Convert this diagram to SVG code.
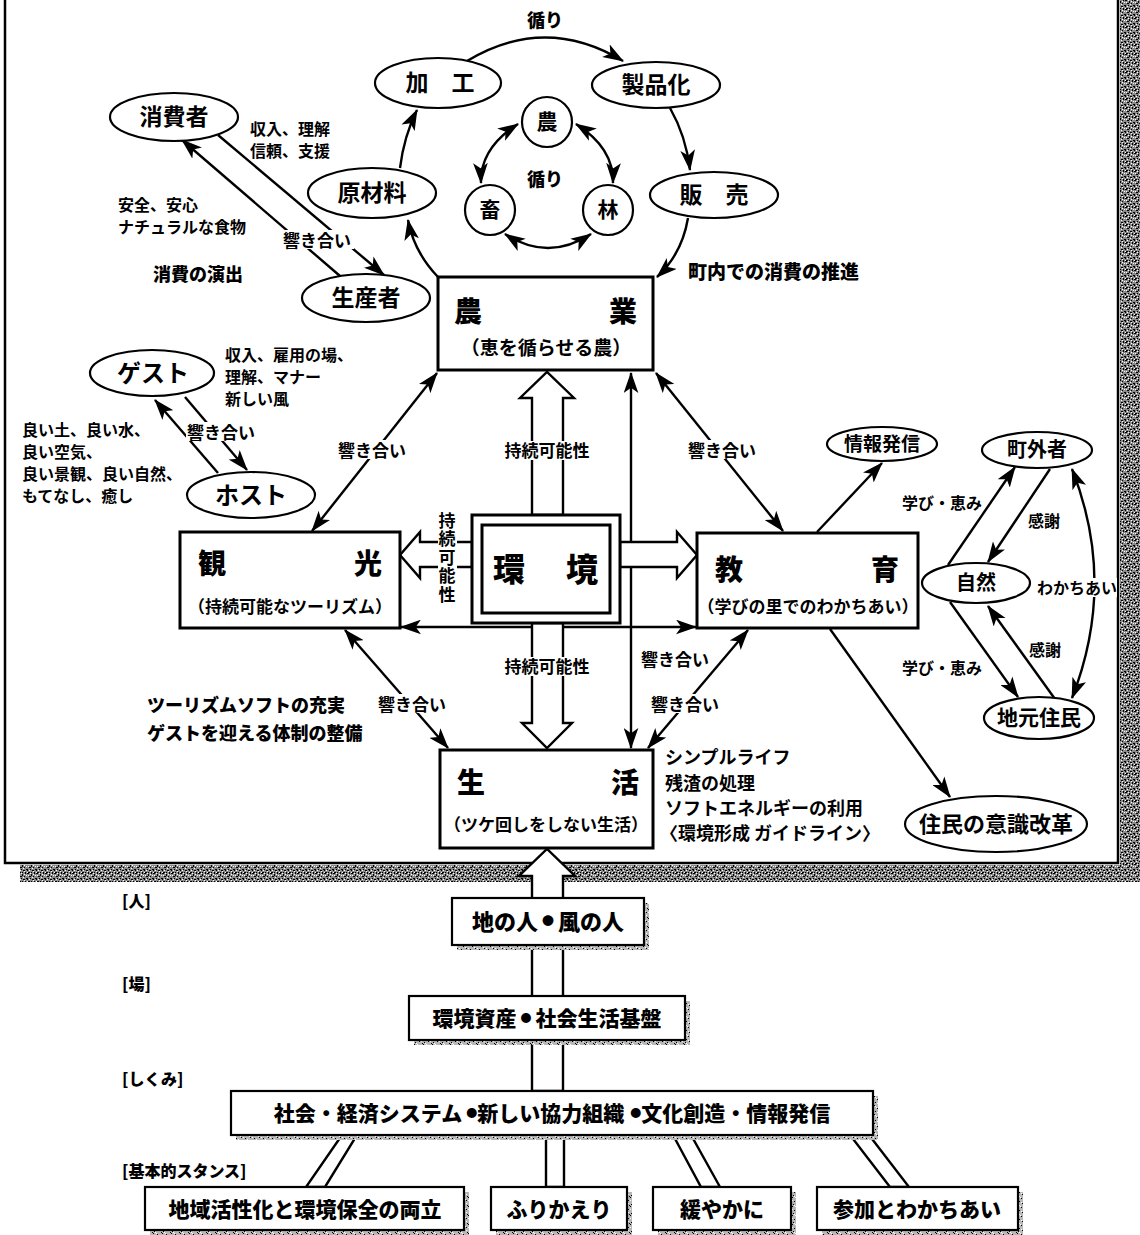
<svg xmlns="http://www.w3.org/2000/svg" width="1140" height="1235" viewBox="0 0 1140 1235">
<style>
.e{fill:#fff;stroke:#000;stroke-width:2.2}
.bx{fill:#fff;stroke:#000;stroke-width:3}
.sb{fill:#fff;stroke:#000;stroke-width:2.2}
.t{font-family:"Noto Sans CJK JP","Noto Sans CJK SC",sans-serif;font-weight:700;fill:#000}
.k{font-family:"Noto Sans CJK JP","Noto Sans CJK SC",sans-serif;font-weight:900;fill:#000}
.c{text-anchor:middle}
.ln{fill:none;stroke:#000;stroke-width:2.4}
.h{fill:#fff;stroke:#000;stroke-width:2.4;stroke-linejoin:miter}
.wb{fill:#fff}
</style>
<defs>
<marker id="a" viewBox="0 0 20 14" refX="19" refY="7" markerWidth="21" markerHeight="15" markerUnits="userSpaceOnUse" orient="auto-start-reverse">
<path d="M0,0 L20,7 L0,14 L5,7 z" fill="#000"/>
</marker>
<pattern id="nz" width="9" height="9" patternUnits="userSpaceOnUse">
<rect width="9" height="9" fill="#8a8a8a"/>
<path d="M0 0h2v1H0zM4 1h1v2H4zM7 0h1v1H7zM2 3h2v1H2zM6 3h1v1H6zM0 5h1v2H0zM3 5h1v1H3zM5 6h2v1H5zM8 5h1v1H8zM1 8h2v1H1zM4 8h1v1H4zM7 8h1v1H7z" fill="#000"/>
<path d="M3 0h1v1H3zM6 1h1v1H6zM1 2h1v1H1zM5 4h1v1H5zM8 2h1v1H8zM2 6h1v1H2zM6 7h1v1H6zM0 8h1v1H0z" fill="#fff"/>
</pattern>
<pattern id="nl" width="9" height="9" patternUnits="userSpaceOnUse">
<rect width="9" height="9" fill="#b8b8b8"/>
<path d="M0 0h1v1H0zM4 1h1v1H4zM7 3h1v1H7zM2 4h1v1H2zM5 6h1v1H5zM1 7h1v1H1zM8 8h1v1H8z" fill="#000"/>
<path d="M3 0h1v1H3zM6 2h1v1H6zM0 3h1v1H0zM4 5h1v1H4zM7 6h1v1H7zM2 8h1v1H2z" fill="#fff"/>
</pattern>
</defs>
<rect width="1140" height="1235" fill="#fff"/>

<!-- frame and textured edges -->
<g id="frame">
<rect x="1120" y="0" width="20" height="882" fill="url(#nz)"/>
<rect x="20" y="865" width="1120" height="17" fill="url(#nz)"/>
<path d="M5,0 V863 H1118 V0" fill="none" stroke="#000" stroke-width="2.5"/>
</g>

<!-- connectors -->
<g id="connectors">
<path class="ln" d="M467,61 Q545,14 623,61" marker-end="url(#a)"/>
<path class="ln" d="M400,168 Q404,136 417,110" marker-end="url(#a)"/>
<path class="ln" d="M438,277 Q414,252 408,220" marker-end="url(#a)"/>
<path class="ln" d="M670,108 Q686,136 690,170" marker-end="url(#a)"/>
<path class="ln" d="M688,218 Q682,254 657,277" marker-end="url(#a)"/>
<path class="ln" d="M518,124 Q480,148 481,183" marker-start="url(#a)" marker-end="url(#a)"/>
<path class="ln" d="M576,124 Q614,148 613,183" marker-start="url(#a)" marker-end="url(#a)"/>
<path class="ln" d="M505,234 Q548,262 591,234" marker-start="url(#a)" marker-end="url(#a)"/>
<path class="ln" d="M218,135 L384,275" marker-end="url(#a)"/>
<path class="ln" d="M340,276 L182,140" marker-end="url(#a)"/>
<path class="ln" d="M185,397 L247,470" marker-end="url(#a)"/>
<path class="ln" d="M218,473 L155,400" marker-end="url(#a)"/>
<path class="ln" d="M312,531 L437,373" marker-start="url(#a)" marker-end="url(#a)"/>
<path class="ln" d="M783,531 L656,373" marker-start="url(#a)" marker-end="url(#a)"/>
<path class="ln" d="M631,748 L631,373" marker-start="url(#a)" marker-end="url(#a)"/>
<path class="ln" d="M401,627 L696,627" marker-start="url(#a)" marker-end="url(#a)"/>
<path class="ln" d="M345,630 L448,748" marker-start="url(#a)" marker-end="url(#a)"/>
<path class="ln" d="M748,630 L648,748" marker-start="url(#a)" marker-end="url(#a)"/>
<path class="ln" d="M817,532 L882,463" marker-end="url(#a)"/>
<path class="ln" d="M830,629 L950,797" marker-end="url(#a)"/>
<path class="ln" d="M948,565 L1015,467" marker-end="url(#a)"/>
<path class="ln" d="M1050,469 L988,562" marker-end="url(#a)"/>
<path class="ln" d="M1072,469 Q1117,583 1072,698" marker-start="url(#a)" marker-end="url(#a)"/>
<path class="ln" d="M950,602 L1018,697" marker-end="url(#a)"/>
<path class="ln" d="M1055,699 L988,606" marker-end="url(#a)"/>
<polygon class="h" points="532,515 532,398 520,398 547,372 574,398 563,398 563,515"/>
<polygon class="h" points="472,542 420,542 420,532 400,555 420,578 420,567 472,567"/>
<polygon class="h" points="620,542 677,542 677,532 697,555 677,578 677,567 620,567"/>
<polygon class="h" points="532,623 532,723 522,723 547,748 572,723 563,723 563,623"/>
<polygon class="h" points="532,1091 532,876 519,876 547,849 575,876 563,876 563,1091"/>
<polygon class="h" points="342,1135 357,1135 325,1187 306,1187"/>
<polygon class="h" points="546,1135 564,1135 564,1187 546,1187"/>
<polygon class="h" points="673,1135 691,1135 720,1187 701,1187"/>
<polygon class="h" points="850,1135 869,1135 909,1187 890,1187"/>
</g>

<!-- connector labels -->
<g id="labels">
<text class="k c" x="545" y="27" font-size="18">循り</text>
<text class="k c" x="545" y="186" font-size="18">循り</text>
<rect class="wb" x="282" y="230" width="72" height="19"/>
<text class="t c" x="317" y="247" font-size="17">響き合い</text>
<rect class="wb" x="186" y="422" width="72" height="19"/>
<text class="t c" x="221" y="439" font-size="17">響き合い</text>
<rect class="wb" x="336" y="440" width="72" height="19"/>
<text class="t c" x="372" y="457" font-size="17">響き合い</text>
<rect class="wb" x="686" y="440" width="72" height="19"/>
<text class="t c" x="722" y="457" font-size="17">響き合い</text>
<rect class="wb" x="376" y="694" width="72" height="19"/>
<text class="t c" x="412" y="711" font-size="17">響き合い</text>
<rect class="wb" x="649" y="694" width="72" height="19"/>
<text class="t c" x="685" y="711" font-size="17">響き合い</text>
<text class="t c" x="675" y="666" font-size="17">響き合い</text>
<rect class="wb" x="502" y="441" width="90" height="19"/>
<text class="t c" x="547" y="457" font-size="17">持続可能性</text>
<rect class="wb" x="502" y="657" width="90" height="19"/>
<text class="t c" x="547" y="673" font-size="17">持続可能性</text>
<rect class="wb" x="438" y="511" width="19" height="94"/>
<text class="t" x="447" y="512" font-size="17" writing-mode="vertical-rl" letter-spacing="1.5">持続可能性</text>
<text class="t c" x="942" y="509" font-size="16">学び・恵み</text>
<text class="t c" x="942" y="674" font-size="16">学び・恵み</text>
<text class="t c" x="1044" y="527" font-size="16">感謝</text>
<text class="t c" x="1045" y="656" font-size="16">感謝</text>
<rect class="wb" x="1037" y="578" width="80" height="19"/>
<text class="t c" x="1077" y="594" font-size="16">わかちあい</text>
</g>

<!-- free texts -->
<g id="notes">
<text class="t" font-size="16"><tspan x="250" y="135">収入、理解</tspan><tspan x="250" y="157">信頼、支援</tspan></text>
<text class="t" font-size="16"><tspan x="118" y="211">安全、安心</tspan><tspan x="118" y="233">ナチュラルな食物</tspan></text>
<text class="k" x="153" y="281" font-size="18">消費の演出</text>
<text class="k" x="688" y="279" font-size="19">町内での消費の推進</text>
<text class="t" font-size="16"><tspan x="225" y="361">収入、雇用の場、</tspan><tspan x="225" y="383">理解、マナー</tspan><tspan x="225" y="405">新しい風</tspan></text>
<text class="t" font-size="16"><tspan x="22" y="436">良い土、良い水、</tspan><tspan x="22" y="458">良い空気、</tspan><tspan x="22" y="480">良い景観、良い自然、</tspan><tspan x="22" y="502">もてなし、癒し</tspan></text>
<text class="k" font-size="18"><tspan x="147" y="712">ツーリズムソフトの充実</tspan><tspan x="147" y="740">ゲストを迎える体制の整備</tspan></text>
<text class="t" font-size="18"><tspan x="665" y="764">シンプルライフ</tspan><tspan x="665" y="790">残渣の処理</tspan><tspan x="665" y="815">ソフトエネルギーの利用</tspan><tspan x="660" y="840">〈環境形成 ガイドライン〉</tspan></text>
<text class="k" x="122" y="907" font-size="16">[人]</text>
<text class="k" x="122" y="990" font-size="16">[場]</text>
<text class="k" x="122" y="1085" font-size="16">[しくみ]</text>
<text class="k" x="122" y="1177" font-size="16">[基本的スタンス]</text>
</g>

<!-- ellipse nodes -->
<g id="kako"><ellipse class="e" cx="438" cy="83" rx="63" ry="25"/><text class="t c" x="440" y="91" font-size="23">加　工</text></g>
<g id="seihinka"><ellipse class="e" cx="656" cy="85" rx="64" ry="23"/><text class="t c" x="656" y="93" font-size="23">製品化</text></g>
<g id="hanbai"><ellipse class="e" cx="714" cy="195" rx="64" ry="23"/><text class="t c" x="714" y="203" font-size="23">販　売</text></g>
<g id="genzairyo"><ellipse class="e" cx="372" cy="193" rx="64" ry="25"/><text class="t c" x="372" y="201" font-size="23">原材料</text></g>
<g id="shohisha"><ellipse class="e" cx="174" cy="117" rx="64" ry="24"/><text class="t c" x="174" y="125" font-size="23">消費者</text></g>
<g id="seisansha"><ellipse class="e" cx="366" cy="298" rx="64" ry="24"/><text class="t c" x="366" y="306" font-size="23">生産者</text></g>
<g id="no"><circle class="e" cx="547" cy="122" r="25"/><text class="t c" x="547" y="129" font-size="21">農</text></g>
<g id="chiku"><circle class="e" cx="490" cy="210" r="25"/><text class="t c" x="490" y="217" font-size="21">畜</text></g>
<g id="rin"><circle class="e" cx="608" cy="210" r="25"/><text class="t c" x="608" y="217" font-size="21">林</text></g>
<g id="guest"><ellipse class="e" cx="152" cy="373" rx="62" ry="23"/><text class="t c" x="153" y="382" font-size="24">ゲスト</text></g>
<g id="host"><ellipse class="e" cx="251" cy="495" rx="64" ry="23"/><text class="t c" x="251" y="504" font-size="24">ホスト</text></g>
<g id="johohasshin"><ellipse class="e" cx="882" cy="444" rx="55" ry="17"/><text class="t c" x="882" y="451" font-size="19">情報発信</text></g>
<g id="chogaisha"><ellipse class="e" cx="1037" cy="450" rx="55" ry="18"/><text class="t c" x="1037" y="457" font-size="20">町外者</text></g>
<g id="shizen"><ellipse class="e" cx="976" cy="583" rx="54" ry="20"/><text class="t c" x="976" y="590" font-size="20">自然</text></g>
<g id="jimotojumin"><ellipse class="e" cx="1039" cy="718" rx="55" ry="21"/><text class="t c" x="1039" y="725" font-size="21">地元住民</text></g>
<g id="ishikikaikaku"><ellipse class="e" cx="996" cy="824" rx="91" ry="28"/><text class="t c" x="996" y="832" font-size="22">住民の意識改革</text></g>

<!-- box nodes -->
<g id="nogyo"><rect class="bx" x="438" y="277" width="215" height="93"/>
<text class="k c" x="468" y="322" font-size="28">農</text><text class="k c" x="623" y="322" font-size="28">業</text>
<text class="t c" x="546" y="355" font-size="19">（恵を循らせる農）</text></g>
<g id="kanko"><rect class="bx" x="180" y="532" width="220" height="96"/>
<text class="k c" x="212" y="574" font-size="28">観</text><text class="k c" x="368" y="574" font-size="28">光</text>
<text class="t c" x="290" y="613" font-size="17">（持続可能なツーリズム）</text></g>
<g id="kankyo"><rect class="bx" x="472" y="515" width="148" height="108"/><rect class="bx" x="482" y="525" width="128" height="88"/>
<text class="k c" x="509" y="581" font-size="32">環</text><text class="k c" x="582" y="581" font-size="32">境</text></g>
<g id="kyoiku"><rect class="bx" x="697" y="533" width="221" height="95"/>
<text class="k c" x="729" y="580" font-size="28">教</text><text class="k c" x="885" y="580" font-size="28">育</text>
<text class="t c" x="808" y="613" font-size="17">（学びの里でのわかちあい）</text></g>
<g id="seikatsu"><rect class="bx" x="440" y="750" width="213" height="98"/>
<text class="k c" x="471" y="793" font-size="28">生</text><text class="k c" x="625" y="793" font-size="28">活</text>
<text class="t c" x="546" y="831" font-size="17">（ツケ回しをしない生活）</text></g>

<!-- lower stack -->
<g id="hito"><rect x="457" y="903" width="192" height="47" fill="url(#nl)"/><rect class="sb" x="452" y="898" width="192" height="47"/>
<text class="k c" x="548" y="930" font-size="22">地の人<tspan font-size="12" dx="4" dy="-4">●</tspan><tspan dx="4" dy="4">風の人</tspan></text></g>
<g id="ba"><rect x="414" y="1001" width="276" height="44" fill="url(#nl)"/><rect class="sb" x="409" y="996" width="276" height="44"/>
<text class="k c" x="547" y="1026" font-size="21">環境資産<tspan font-size="11" dx="4" dy="-4">●</tspan><tspan dx="4" dy="4">社会生活基盤</tspan></text></g>
<g id="shikumi"><rect x="236" y="1096" width="642" height="44" fill="url(#nl)"/><rect class="sb" x="231" y="1091" width="642" height="44"/>
<text class="k c" x="552" y="1121" font-size="21">社会・経済システム<tspan font-size="11" dx="4" dy="-4">●</tspan><tspan dy="4">新しい協力組織</tspan><tspan font-size="11" dx="6" dy="-4">●</tspan><tspan dy="4">文化創造・情報発信</tspan></text></g>
<g id="ryoritsu"><rect x="150" y="1192" width="319" height="43" fill="url(#nl)"/><rect class="sb" x="145" y="1187" width="319" height="43"/>
<text class="k c" x="305" y="1217" font-size="21">地域活性化と環境保全の両立</text></g>
<g id="furikaeri"><rect x="496" y="1192" width="136" height="43" fill="url(#nl)"/><rect class="sb" x="491" y="1187" width="136" height="43"/>
<text class="k c" x="559" y="1217" font-size="21">ふりかえり</text></g>
<g id="yuruyaka"><rect x="658" y="1192" width="138" height="43" fill="url(#nl)"/><rect class="sb" x="653" y="1187" width="138" height="43"/>
<text class="k c" x="722" y="1217" font-size="21">緩やかに</text></g>
<g id="sanka"><rect x="822" y="1192" width="201" height="43" fill="url(#nl)"/><rect class="sb" x="817" y="1187" width="201" height="43"/>
<text class="k c" x="917" y="1217" font-size="21">参加とわかちあい</text></g>
</svg>
